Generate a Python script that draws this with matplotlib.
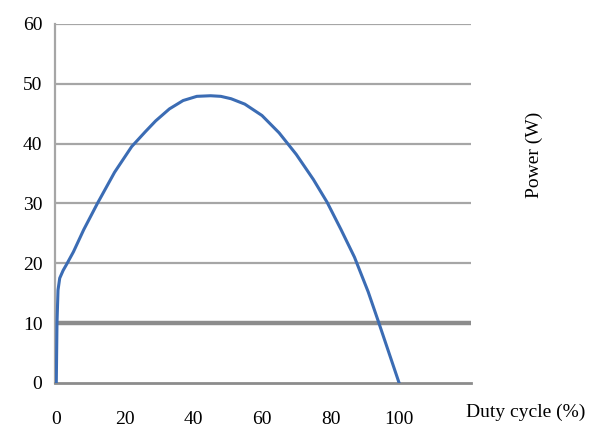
import numpy as np
import matplotlib.pyplot as plt

# duty cycle (%) vs power (W)
duty = [0, 0.1, 0.2, 0.5, 1, 2, 3, 5, 8, 12, 17, 22, 26, 29, 33, 37, 41, 45,
        48, 51, 55, 60, 65, 70, 75, 79, 83, 87, 91, 94, 97, 100]
power = [0, 5, 10, 15.5, 17.5, 18.8, 19.8, 21.9, 25.6, 30, 35.2, 39.5, 42,
         43.8, 45.8, 47.2, 47.9, 48, 47.9, 47.5, 46.6, 44.7, 41.8, 38.2,
         34, 30.2, 25.7, 21, 15.2, 10.2, 5.1, 0]

yticks = [0, 10, 20, 30, 40, 50, 60]
xticks = [0, 20, 40, 60, 80, 100]

plt.rcParams['font.family'] = ['Liberation Serif', 'DejaVu Serif']

fig = plt.figure(figsize=(5.97, 4.36), dpi=100)
ax = fig.add_axes([0.092, 0.122, 0.697, 0.823])

# horizontal gridlines, the 10 W one is heavier in the original
for y in yticks[1:]:
    if y == 10:
        ax.axhline(y, color='#8c8c8c', lw=3.2, zorder=1)
    else:
        ax.axhline(y, color='#a6a6a6', lw=1.6, zorder=1)

ax.plot(duty, power, color='#3b6cb4', lw=2.2, zorder=3)

ax.set_xlim(-0.4, 121)
ax.set_ylim(0, 60)
ax.set_xticks(xticks)
ax.set_yticks(yticks)
ax.tick_params(length=0, labelsize=14)
ax.tick_params(axis='x', pad=20)
ax.tick_params(axis='y', pad=9)

for side in ['top', 'right']:
    ax.spines[side].set_visible(False)
ax.spines['left'].set_color('#a6a6a6')
ax.spines['left'].set_linewidth(1.6)
ax.spines['bottom'].set_color('#8c8c8c')
ax.spines['bottom'].set_linewidth(2)

fig.text(0.88, 0.035, 'Duty cycle (%)', fontsize=14, ha='center', va='bottom')
fig.text(0.895, 0.645, 'Power (W)', fontsize=14, rotation=90,
         ha='center', va='center')

fig.savefig('out.png', dpi=100)
